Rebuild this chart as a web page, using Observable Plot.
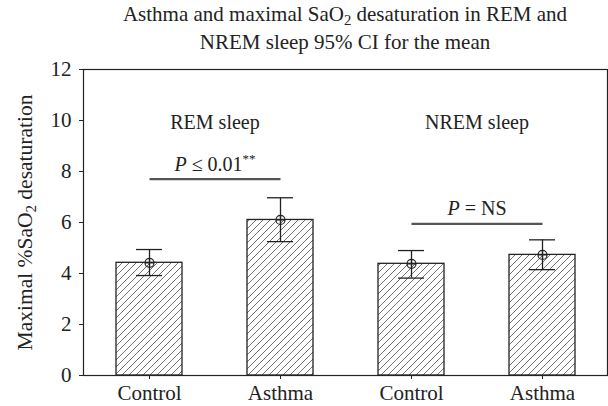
<!DOCTYPE html>
<html><head><meta charset="utf-8">
<script src="https://cdn.jsdelivr.net/npm/d3@7"></script>
<script src="https://cdn.jsdelivr.net/npm/@observablehq/plot@0.6"></script>
<style>
body{margin:0;background:#fff;font-family:"Liberation Serif",serif;}
#title{width:608px;box-sizing:border-box;padding-left:83px;padding-right:1px;text-align:center;font-size:21px;line-height:28px;height:56px;color:#222;}
#title sub{font-size:0.7em;line-height:0;vertical-align:-0.28em;}
</style></head><body>
<div id="title">Asthma and maximal SaO<sub>2</sub> desaturation in REM and<br>NREM sleep 95% CI for the mean</div>
<div id="chart"></div>
<script>
const categories = ["REM Control", "REM Asthma", "NREM Control", "NREM Asthma"];
const tickLabels = ["Control", "Asthma", "Control", "Asthma"];
const means = [4.42, 6.1, 4.38, 4.73];
const ciLow = [3.92, 5.25, 3.82, 4.15];
const ciHigh = [4.94, 6.97, 4.9, 5.32];
const yTicks = [0, 2, 4, 6, 8, 10, 12];
const groupLabels = ["REM sleep", "NREM sleep"];
const groupFirst = ["REM Control", "NREM Control"];
const groupSecond = ["REM Asthma", "NREM Asthma"];
const groupLabelY = [9.9, 9.9];
const pTexts = ["P ≤ 0.01**", "P = NS"];
const pLineY = [7.7, 5.95];
const yLabel = "Maximal %SaO2 desaturation";

const W = 608, mL = 83, mR = 1;
const step = (W - mL - mR) / categories.length;
const data = categories.map((c, i) => ({cat: c, mean: means[i], lo: ciLow[i], hi: ciHigh[i]}));
const groups = groupLabels.map((g, i) => ({label: g, a: groupFirst[i], b: groupSecond[i], y: groupLabelY[i], p: pTexts[i], py: pLineY[i]}));

const circlePlus = {
  draw(context, size) {
    const r = Math.sqrt(size / Math.PI);
    context.moveTo(r, 0);
    context.arc(0, 0, r, 0, 2 * Math.PI);
    context.moveTo(-r, 0); context.lineTo(r, 0);
    context.moveTo(0, -r); context.lineTo(0, r);
  }
};

const ink = "#222";
const plot = Plot.plot({
  width: W, height: 350,
  marginLeft: mL, marginRight: mR, marginTop: 13, marginBottom: 31,
  style: {fontFamily: "Liberation Serif", fontSize: "21px", color: ink, background: "#fff"},
  x: {domain: categories, paddingInner: 0.5, paddingOuter: 0.25, label: null,
      tickFormat: d => tickLabels[categories.indexOf(d)], tickSize: 4, tickPadding: 6},
  y: {domain: [0, 12], ticks: yTicks, label: yLabel, labelAnchor: "center", labelArrow: "none",
      labelOffset: 67, tickSize: 4, tickPadding: 8},
  marks: [
    Plot.barY(data, {x: "cat", y: "mean", fill: "url(#hatch)", stroke: ink, strokeWidth: 1.3}),
    Plot.ruleX(data, {x: "cat", y1: "lo", y2: "hi", stroke: ink, strokeWidth: 1.3}),
    Plot.tickY(data, {x: "cat", y: "lo", insetLeft: 20, insetRight: 20, stroke: ink, strokeWidth: 1.3}),
    Plot.tickY(data, {x: "cat", y: "hi", insetLeft: 20, insetRight: 20, stroke: ink, strokeWidth: 1.3}),
    Plot.dot(data, {x: "cat", y: "mean", r: 4.5, symbol: circlePlus, stroke: ink, fill: "none", strokeWidth: 1.2}),
    Plot.link(groups, {x1: "a", x2: "b", y1: "py", y2: "py", stroke: "#555", strokeWidth: 2.2}),
    Plot.text(groups, {x: "a", y: "y", text: "label", dx: step / 2, fontSize: 20, fill: ink}),
    Plot.text(groups, {x: "a", y: "py", text: "p", dx: step / 2, dy: -15, fontSize: 20, fill: ink, className: "ptext"}),
    Plot.frame({stroke: ink, strokeWidth: 1.2})
  ]
});

const svg = d3.select(plot);
const defs = svg.insert("defs", ":first-child");
const pat = defs.append("pattern").attr("id", "hatch").attr("patternUnits", "userSpaceOnUse")
  .attr("width", 7).attr("height", 7);
pat.append("rect").attr("width", 7).attr("height", 7).attr("fill", "#fff");
pat.append("path").attr("d", "M-1,1 l2,-2 M0,7 l7,-7 M6,8 l2,-2").attr("stroke", "#444").attr("stroke-width", 0.75);

// italic P and superscript stars
svg.selectAll("g.ptext text").each(function() {
  const t = this.textContent;
  const el = d3.select(this);
  el.text(null);
  let rest = t.slice(1), sup = "";
  const m = rest.match(/(\*+)$/);
  if (m) { sup = m[1]; rest = rest.slice(0, -sup.length); }
  el.append("tspan").attr("font-style", "italic").text(t[0]);
  el.append("tspan").text(rest);
  if (sup) el.append("tspan").attr("font-size", "0.65em").attr("dy", "-0.55em").text(sup);
});

// subscript 2 in axis label
svg.selectAll("text").filter(function() { return this.textContent === yLabel; }).each(function() {
  const el = d3.select(this);
  el.attr("font-size", "21.5px");
  el.text(null);
  el.append("tspan").text("Maximal %SaO");
  el.append("tspan").attr("font-size", "0.7em").attr("dy", "0.3em").text("2");
  el.append("tspan").attr("dy", "-0.21em").text(" desaturation");
});

document.getElementById("chart").appendChild(plot);
</script>
</body></html>
